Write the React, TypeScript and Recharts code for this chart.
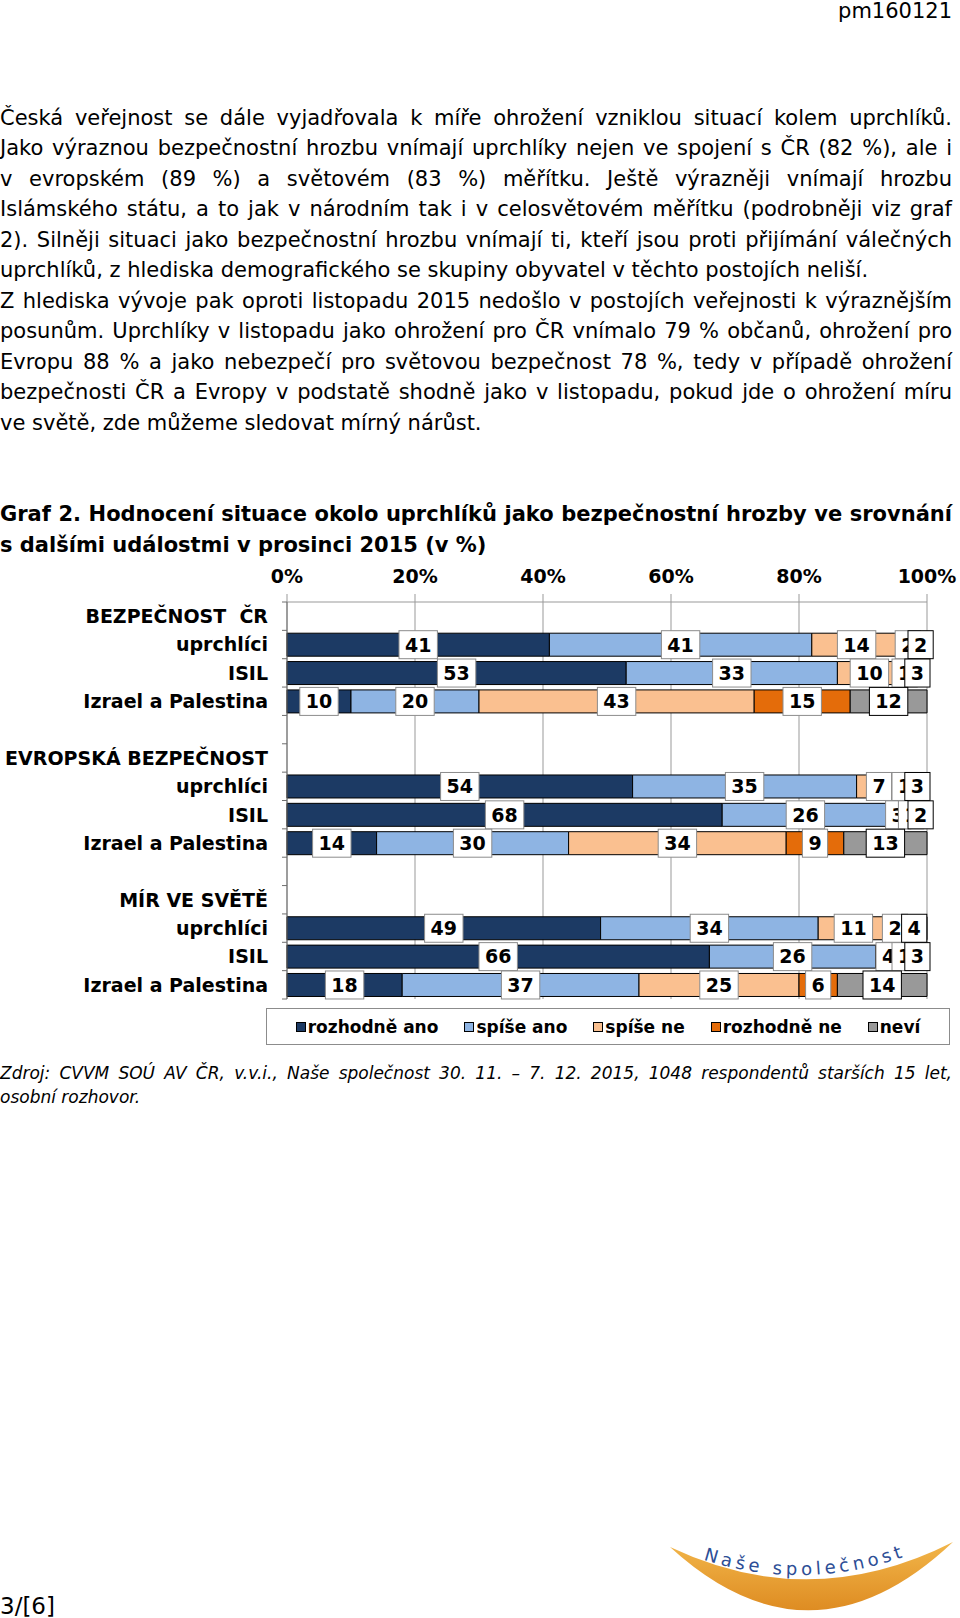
import React, { useLayoutEffect, useRef, useState } from 'react';
import { BarChart, Bar, XAxis, YAxis, CartesianGrid, LabelList } from 'recharts';

const FONT = '"DejaVu Sans", Verdana, sans-serif';
const TEXT_WIDTH = 952;

// ---------- text content ----------
const headerText = 'pm160121';
const paragraphLines = [
  'Česká veřejnost se dále vyjadřovala k míře ohrožení vzniklou situací kolem uprchlíků.',
  'Jako výraznou bezpečnostní hrozbu vnímají uprchlíky nejen ve spojení s ČR (82 %), ale i',
  'v evropském (89 %) a světovém (83 %) měřítku. Ještě výrazněji vnímají hrozbu',
  'Islámského státu, a to jak v národním tak i v celosvětovém měřítku (podrobněji viz graf',
  '2). Silněji situaci jako bezpečnostní hrozbu vnímají ti, kteří jsou proti přijímání válečných',
  'uprchlíků, z hlediska demografického se skupiny obyvatel v těchto postojích neliší.',
  'Z hlediska vývoje pak oproti listopadu 2015 nedošlo v postojích veřejnosti k výraznějším',
  'posunům. Uprchlíky v listopadu jako ohrožení pro ČR vnímalo 79 % občanů, ohrožení pro',
  'Evropu 88 % a jako nebezpečí pro světovou bezpečnost 78 %, tedy v případě ohrožení',
  'bezpečnosti ČR a Evropy v podstatě shodně jako v listopadu, pokud jde o ohrožení míru',
  've světě, zde můžeme sledovat mírný nárůst.',
];
const paragraphJustified = [true, true, true, true, true, false, true, true, true, true, false];
const titleLines = [
  'Graf 2. Hodnocení situace okolo uprchlíků jako bezpečnostní hrozby ve srovnání',
  's dalšími událostmi v prosinci 2015 (v %)',
];
const sourceLines = [
  'Zdroj: CVVM SOÚ AV ČR, v.v.i., Naše společnost 30. 11. – 7. 12. 2015, 1048 respondentů starších 15 let,',
  'osobní rozhovor.',
];
const pageNumber = '3/[6]';
const logoText = 'Naše společnost';

// ---------- chart data ----------
const categories = [
  'BEZPEČNOST\u00a0\u00a0ČR', 'uprchlíci', 'ISIL', 'Izrael a Palestina', '',
  'EVROPSKÁ BEZPEČNOST', 'uprchlíci', 'ISIL', 'Izrael a Palestina', '',
  'MÍR VE SVĚTĚ', 'uprchlíci', 'ISIL', 'Izrael a Palestina',
];
const seriesNames = ['rozhodně ano', 'spíše ano', 'spíše ne', 'rozhodně ne', 'neví'];
const seriesColors = ['#1C3A64', '#8EB4E3', '#FAC090', '#E46C0A', '#999999'];
const rozhodneAno = [null, 41, 53, 10, null, null, 54, 68, 14, null, null, 49, 66, 18];
const spiseAno = [null, 41, 33, 20, null, null, 35, 26, 30, null, null, 34, 26, 37];
const spiseNe = [null, 14, 10, 43, null, null, 7, 3, 34, null, null, 11, 4, 25];
const rozhodneNe = [null, 2, 1, 15, null, null, 1, 1, 9, null, null, 2, 1, 6];
const nevi = [null, 2, 3, 12, null, null, 3, 2, 13, null, null, 4, 3, 14];
const xTicks = [0, 20, 40, 60, 80, 100];

const seriesValues = [rozhodneAno, spiseAno, spiseNe, rozhodneNe, nevi];
const seriesKeys = ['s0', 's1', 's2', 's3', 's4'];
const chartData = categories.map((name, i) => {
  const row: any = { key: `c${i}`, name };
  seriesKeys.forEach((k, j) => { row[k] = seriesValues[j][i]; });
  return row;
});

// ---------- helpers ----------
function TextLine(props: any) {
  const { text, top, size = 21, bold = false, italic = false, justify = false, lineHeight = 30, align = 'left' } = props;
  const ref = useRef<HTMLSpanElement>(null);
  const [ws, setWs] = useState(0);
  useLayoutEffect(() => {
    if (!justify || !ref.current) return;
    const natural = ref.current.getBoundingClientRect().width;
    const spaces = text.split(' ').length - 1;
    if (spaces > 0) setWs((TEXT_WIDTH - natural) / spaces);
  }, [text, justify]);
  return (
    <div style={{
      position: 'absolute', left: 0, top, width: TEXT_WIDTH, whiteSpace: 'nowrap',
      fontSize: size, lineHeight: `${lineHeight}px`, fontWeight: bold ? 700 : 400,
      fontStyle: italic ? 'italic' : 'normal', textAlign: align,
    }}>
      <span ref={ref} style={{ wordSpacing: ws }}>{text}</span>
    </div>
  );
}

const CHART_W = 960;
const CHART_H = 470;
const CHART_MARGIN = { top: 22, right: 33, bottom: 11, left: 0 };
const X_AXIS_H = 40;
const Y_AXIS_W = 287;
const Y_TICK_SIZE = 5;
const Y_TICK_MARGIN = 14;

function CategoryTick(props: any) {
  const { x, y, payload, index } = props;
  const i = typeof index === 'number' ? index : Number(String(payload?.value).slice(1));
  const label = categories[i] ?? '';
  const plotH = CHART_H - CHART_MARGIN.top - X_AXIS_H - CHART_MARGIN.bottom;
  const half = payload && typeof payload.offset === 'number' && payload.offset > 0 ? payload.offset : plotH / categories.length / 2;
  const axisX = Number(x) + Y_TICK_SIZE + Y_TICK_MARGIN;
  const isLast = i === categories.length - 1;
  return (
    <g>
      <line x1={axisX - 5} x2={axisX} y1={y - half} y2={y - half} stroke="#6e6e6e" strokeWidth={1} />
      {isLast && <line x1={axisX - 5} x2={axisX} y1={y + half} y2={y + half} stroke="#6e6e6e" strokeWidth={1} />}
      <text x={x} y={y} dy="0.36em" textAnchor="end" fontFamily={FONT} fontWeight={700} fontSize={19} fill="#000">
        {label}
      </text>
    </g>
  );
}

function makeValueLabel(borderColor: string) {
  return function ValueLabel(props: any) {
    const vb = props.viewBox || {};
    const x = Number(vb.x ?? props.x);
    const y = Number(vb.y ?? props.y);
    const w = Number(vb.width ?? props.width);
    const h = Number(vb.height ?? props.height);
    const v = props.value;
    if (v === null || v === undefined || v === '' || !isFinite(x) || !isFinite(w)) return null;
    const txt = String(v);
    const bw = txt.length * 13.2 + 12;
    const bh = 28;
    const cx = x + w / 2;
    const cy = y + h / 2;
    return (
      <g>
        <rect x={cx - bw / 2} y={cy - bh / 2} width={bw} height={bh} fill="#fff" stroke={borderColor} strokeWidth={1} />
        <text x={cx} y={cy} dy="0.36em" textAnchor="middle" fontFamily={FONT} fontWeight={700} fontSize={19} fill="#000">
          {txt}
        </text>
      </g>
    );
  };
}
const labelBorders = ['#8c8c8c', '#8c8c8c', '#8c8c8c', '#8c8c8c', '#000000'];
const labelRenderers = labelBorders.map((c) => makeValueLabel(c));

function Chart() {
  return (
    <div style={{ position: 'absolute', left: 0, top: 540, width: CHART_W, height: CHART_H }}>
      <div style={{ position: 'absolute', left: 0, top: 0 }}>
        <BarChart layout="vertical" width={CHART_W} height={CHART_H} data={chartData} margin={CHART_MARGIN} barCategoryGap="10%">
          <CartesianGrid horizontal={false} stroke="#999999" />
          <XAxis
            type="number" orientation="top" domain={[0, 100]} ticks={xTicks} height={X_AXIS_H}
            tickFormatter={(v: number) => `${v}%`} tickSize={8} tickMargin={11}
            axisLine={{ stroke: '#999999' }} tickLine={{ stroke: '#999999' }}
            tick={{ fontSize: 19, fontWeight: 700, fill: '#000', fontFamily: FONT }}
            interval={0}
          />
          <YAxis
            type="category" dataKey="key" width={Y_AXIS_W} interval={0}
            tickSize={Y_TICK_SIZE} tickMargin={Y_TICK_MARGIN} tickLine={false}
            axisLine={{ stroke: '#6e6e6e' }}
            tick={(p: any) => <CategoryTick {...p} />}
          />
          {seriesKeys.map((k, i) => (
            <Bar key={k} dataKey={k} name={seriesNames[i]} stackId="a" fill={seriesColors[i]} stroke="#000" strokeWidth={1} isAnimationActive={false} />
          ))}
        </BarChart>
      </div>
      <div style={{ position: 'absolute', left: 0, top: 0 }}>
        <BarChart layout="vertical" width={CHART_W} height={CHART_H} data={chartData} margin={CHART_MARGIN} barCategoryGap="10%">
          <XAxis type="number" orientation="top" domain={[0, 100]} ticks={xTicks} height={X_AXIS_H} tick={false} axisLine={false} tickLine={false} />
          <YAxis type="category" dataKey="key" width={Y_AXIS_W} tick={false} axisLine={false} tickLine={false} />
          {seriesKeys.map((k, i) => (
            <Bar key={k} dataKey={k} stackId="a" fill="transparent" stroke="none" isAnimationActive={false}>
              <LabelList dataKey={k} content={labelRenderers[i]} />
            </Bar>
          ))}
        </BarChart>
      </div>
    </div>
  );
}

function Legend() {
  return (
    <div style={{
      position: 'absolute', left: 266, top: 1008, width: 682, height: 35, border: '1px solid #8c8c8c',
      display: 'flex', alignItems: 'center', justifyContent: 'center', gap: 26,
      fontSize: 17, fontWeight: 700, whiteSpace: 'nowrap',
    }}>
      {seriesNames.map((n, i) => (
        <div key={n} style={{ display: 'flex', alignItems: 'center' }}>
          <span style={{ display: 'inline-block', width: 8, height: 8, border: '1px solid #000', background: seriesColors[i], marginRight: 2 }} />
          <span>{n}</span>
        </div>
      ))}
    </div>
  );
}

function Logo() {
  return (
    <svg style={{ position: 'absolute', left: 640, top: 1520 }} width={320} height={98}>
      <defs>
        <linearGradient id="lg" x1="0" y1="0" x2="0" y2="1">
          <stop offset="0%" stopColor="#F2B64A" />
          <stop offset="100%" stopColor="#DE8C22" />
        </linearGradient>
        <path id="tp" d="M 58 38 Q 165 74 272 34" />
      </defs>
      <path d="M 30 27 Q 171 156 313 22 Q 171 94 30 27 Z" fill="url(#lg)" />
      <text fontFamily={FONT} fontSize={18} fill="#2D4E96" letterSpacing={4}>
        <textPath href="#tp" startOffset="50%" textAnchor="middle">{logoText}</textPath>
      </text>
    </svg>
  );
}

export default function App() {
  const bodyTop = 103;
  const bodyStep = 30.45;
  return (
    <div style={{ position: 'absolute', left: 0, top: 0, width: 960, height: 1618, background: '#fff', fontFamily: FONT, color: '#000', overflow: 'hidden' }}>
      <TextLine text={headerText} top={-4} align="right" />
      {paragraphLines.map((t, i) => (
        <TextLine key={i} text={t} top={bodyTop + i * bodyStep} justify={paragraphJustified[i]} />
      ))}
      <TextLine text={titleLines[0]} top={499} bold justify />
      <TextLine text={titleLines[1]} top={530} bold />
      <Chart />
      <Legend />
      <TextLine text={sourceLines[0]} top={1061} size={17} italic justify lineHeight={24} />
      <TextLine text={sourceLines[1]} top={1085} size={17} italic lineHeight={24} />
      <TextLine text={pageNumber} top={1591} size={23} />
      <Logo />
    </div>
  );
}
